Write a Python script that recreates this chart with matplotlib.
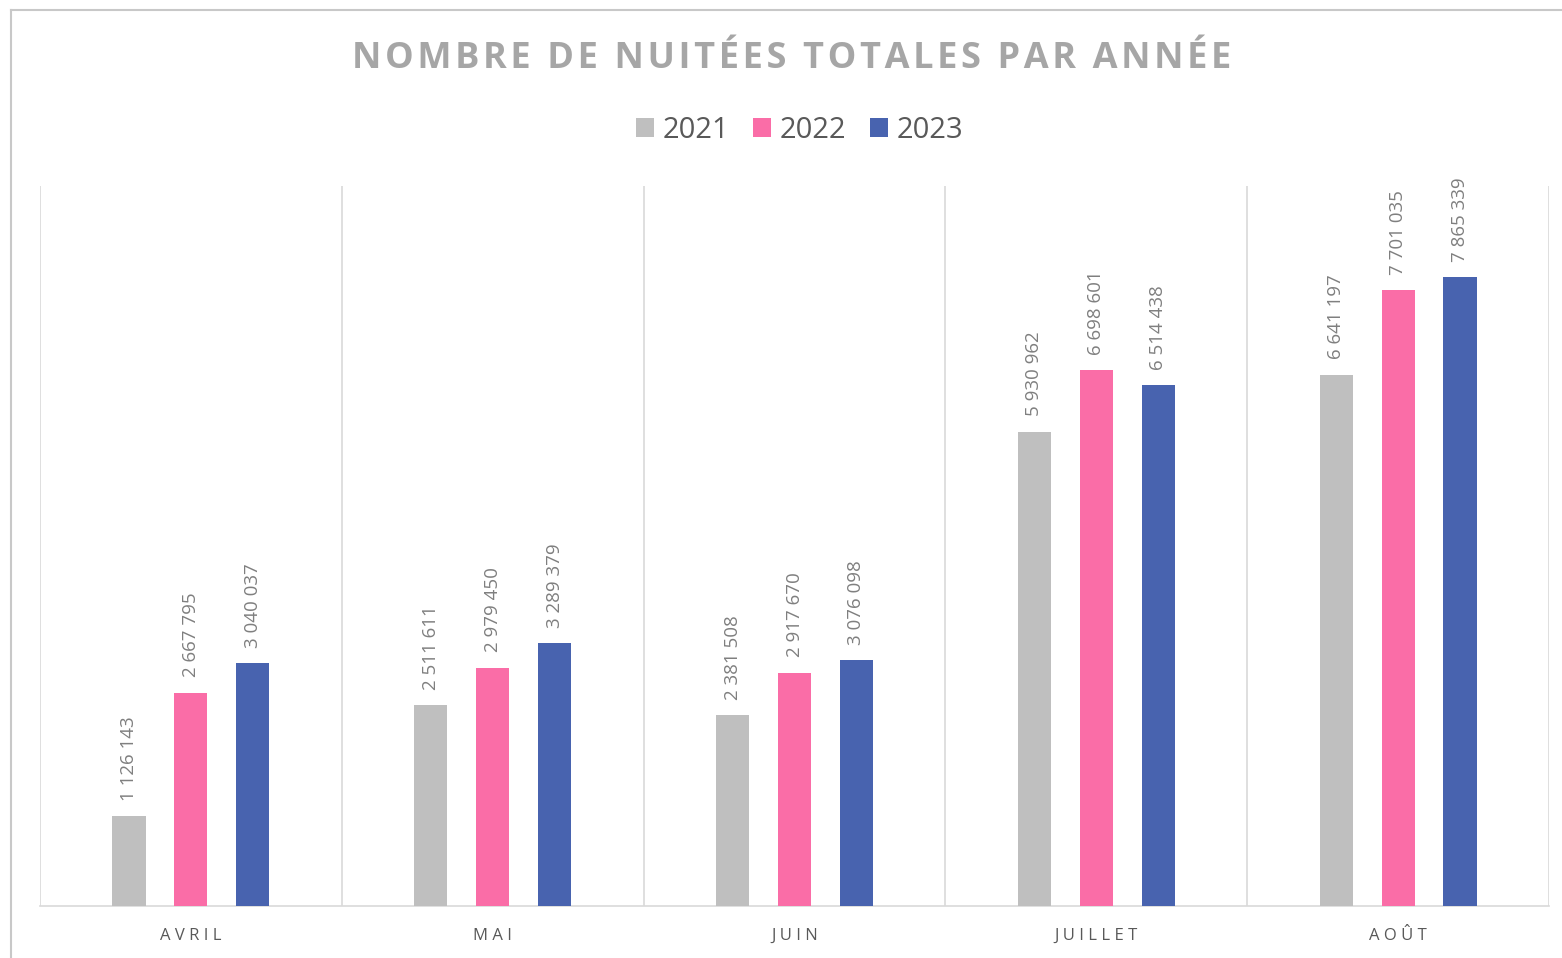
import numpy as np
import matplotlib.pyplot as plt
from matplotlib.lines import Line2D

# Données
mois = ["AVRIL", "MAI", "JUIN", "JUILLET", "AOÛT"]
annees = ["2021", "2022", "2023"]
nuitees_2021 = [1126143, 2511611, 2381508, 5930962, 6641197]
nuitees_2022 = [2667795, 2979450, 2917670, 6698601, 7701035]
nuitees_2023 = [3040037, 3289379, 3076098, 6514438, 7865339]
couleurs = ["#BFBFBF", "#FA6DA7", "#4863AF"]

series = [nuitees_2021, nuitees_2022, nuitees_2023]

plt.rcParams['font.family'] = ['Open Sans', 'DejaVu Sans']

fig = plt.figure(figsize=(15.62, 9.58), dpi=100)
ax = fig.add_axes([0.0256, 0.0543, 0.9661, 0.7515])

x = np.arange(len(mois))
largeur = 0.11
ecart = 0.205

for i, (valeurs, annee, couleur) in enumerate(zip(series, annees, couleurs)):
    pos = x + (i - 1) * ecart
    bars = ax.bar(pos, valeurs, width=largeur, color=couleur, label=annee, zorder=3)
    for b, v in zip(bars, valeurs):
        ax.annotate(f"{v:,}".replace(",", " "),
                    (b.get_x() + b.get_width() / 2, b.get_height()),
                    xytext=(0, 11), textcoords="offset points",
                    rotation=90, ha="center", va="bottom",
                    fontsize=13.5, color="#7F7F7F")

ax.set_xlim(-0.5, len(mois) - 0.5)
ax.set_ylim(0, 9000000)
ax.set_yticks([])
ax.set_xticks(x)
ax.set_xticklabels([" ".join(m) for m in mois], fontsize=12, color="#595959")
ax.tick_params(axis="x", length=0, pad=16)

# séparateurs entre mois
ax.set_xticks(np.arange(-0.5, len(mois)), minor=True)
ax.tick_params(axis="x", which="minor", length=0)
ax.grid(True, axis="x", which="minor", color="#D9D9D9", linewidth=1.2)

for s in ["top", "left", "right"]:
    ax.spines[s].set_visible(False)
ax.spines["bottom"].set_color("#D9D9D9")
ax.spines["bottom"].set_linewidth(1.2)

titre = "NOMBRE DE NUITÉES TOTALES PAR ANNÉE"
fig.text(0.507, 0.938, "\u200a".join(titre),
         ha="center", va="center", fontsize=26, fontweight="bold", color="#A6A6A6")

fig.legend(loc="center", bbox_to_anchor=(0.512, 0.864), ncol=3, frameon=False,
           fontsize=21, labelcolor="#595959", handlelength=0.62, handleheight=0.62,
           handletextpad=0.3, columnspacing=0.8)

# cadre du graphique
fig.add_artist(Line2D([0.0072, 0.0072], [0, 0.9896], transform=fig.transFigure,
                      color="#C8C8C8", linewidth=1.5))
fig.add_artist(Line2D([0.0072, 1], [0.9896, 0.9896], transform=fig.transFigure,
                      color="#C8C8C8", linewidth=1.5))

fig.savefig("out.png", dpi=100)
